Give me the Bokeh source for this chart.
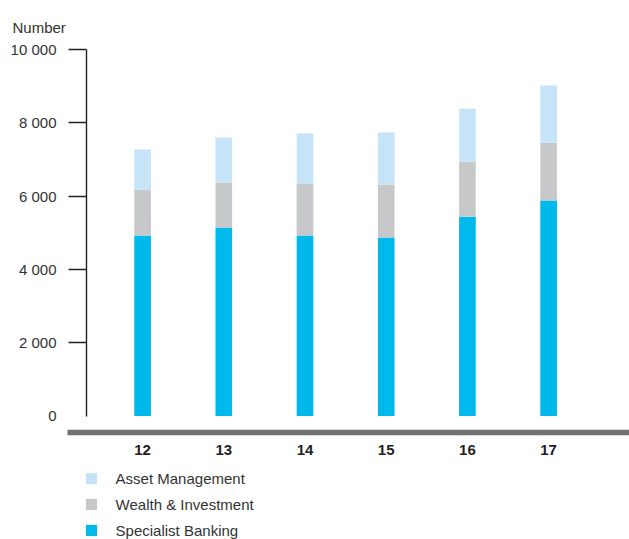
from bokeh.plotting import figure
from bokeh.models import (ColumnDataSource, Range1d, LinearAxis, FixedTicker,
                          Legend, LegendItem, Label)
from bokeh.embed import file_html
from bokeh.resources import INLINE

# ---- data ----
years = ["12", "13", "14", "15", "16", "17"]
specialist_banking = [4925, 5145, 4925, 4870, 5440, 5880]
wealth_investment = [1255, 1225, 1420, 1445, 1500, 1580]
asset_management = [1090, 1230, 1365, 1420, 1445, 1555]
y_ticks = [2000, 4000, 6000, 8000, 10000]
y_tick_labels = ["2 000", "4 000", "6 000", "8 000", "10 000"]

series = ["Specialist Banking", "Wealth & Investment", "Asset Management"]
colors = ["#00B9EC", "#C7C8CA", "#C5E4F7"]

xs = list(range(len(years)))
source = ColumnDataSource(dict(x=xs, sb=specialist_banking,
                               wi=wealth_investment, am=asset_management))

FONT = "Liberation Sans"
TXT = "#333333"

p = figure(width=629, height=539,
           x_range=Range1d(-1.75, 5.996), y_range=Range1d(-3366, 11337),
           output_backend="svg", toolbar_location=None,
           x_axis_location=None, y_axis_location=None,
           min_border=0, outline_line_color=None)
p.grid.visible = False
p.background_fill_color = "white"

rs = p.vbar_stack(["sb", "wi", "am"], x="x", width=0.205, color=colors,
                  line_color=None, source=source)

# y axis
yax = LinearAxis(fixed_location=-0.691, bounds=(0, 10000),
                 ticker=FixedTicker(ticks=y_ticks),
                 major_label_overrides={t: l for t, l in zip(y_ticks, y_tick_labels)})
yax.axis_line_color = "#222222"
yax.axis_line_width = 1.4
yax.major_tick_line_color = "#222222"
yax.major_tick_line_width = 1.4
yax.major_tick_out = 18
yax.major_tick_in = 0
yax.minor_tick_line_color = None
yax.major_label_standoff = 12
yax.major_label_text_font = FONT
yax.major_label_text_font_size = "15px"
yax.major_label_text_color = TXT
p.add_layout(yax, "left")

# zero label (no tick mark)
zax = LinearAxis(fixed_location=-0.691, bounds=(0, 10000),
                 ticker=FixedTicker(ticks=[0]))
zax.axis_line_color = None
zax.major_tick_line_color = None
zax.major_tick_out = 18
zax.major_tick_in = 0
zax.minor_tick_line_color = None
zax.major_label_standoff = 12
zax.major_label_text_font = FONT
zax.major_label_text_font_size = "15px"
zax.major_label_text_color = TXT
p.add_layout(zax, "left")

# x axis (thick grey base line)
xax = LinearAxis(fixed_location=-447, bounds=(-0.921, 5.996),
                 ticker=FixedTicker(ticks=xs),
                 major_label_overrides={i: y for i, y in zip(xs, years)})
xax.axis_line_color = "#707072"
xax.axis_line_width = 5.5
xax.major_tick_line_color = None
xax.major_tick_out = 0
xax.major_tick_in = 0
xax.minor_tick_line_color = None
xax.major_label_standoff = 13
xax.major_label_text_font = FONT
xax.major_label_text_font_size = "15px"
xax.major_label_text_font_style = "bold"
xax.major_label_text_color = "#222222"
p.add_layout(xax, "below")

# axis unit title
p.add_layout(Label(x=12, y=539 - 27, x_units="screen", y_units="screen",
                   text="Number", text_font=FONT, text_font_size="15px",
                   text_color=TXT, text_baseline="alphabetic"))

legend = Legend(items=[LegendItem(label=series[2], renderers=[rs[2]]),
                       LegendItem(label=series[1], renderers=[rs[1]]),
                       LegendItem(label=series[0], renderers=[rs[0]])],
                location=(83.6, 0.5), orientation="vertical",
                glyph_width=14, glyph_height=14, label_height=16, spacing=9,
                label_standoff=18, padding=0, margin=0,
                border_line_color=None, background_fill_alpha=0,
                label_text_font=FONT, label_text_font_size="15px",
                label_text_color=TXT)
p.add_layout(legend)

open("out.html", "w").write(file_html(p, INLINE))
